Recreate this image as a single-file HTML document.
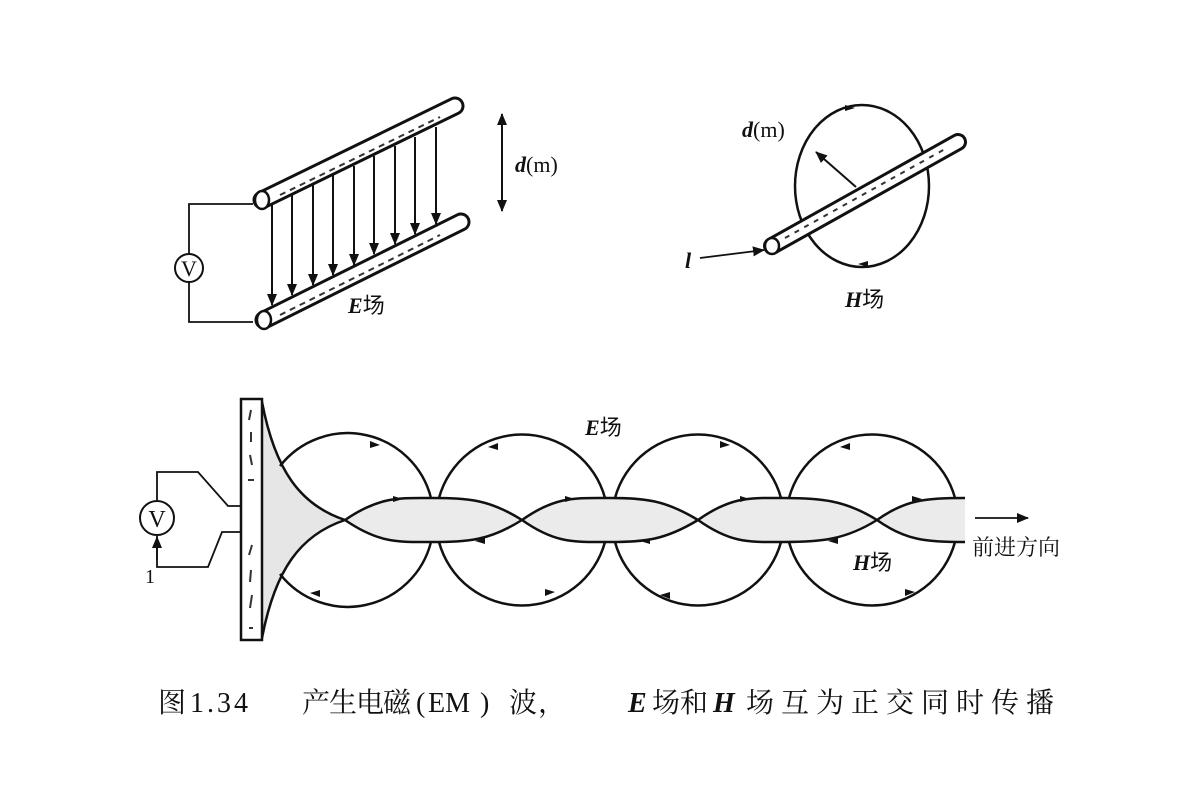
<!DOCTYPE html>
<html><head><meta charset="utf-8"><style>
body{margin:0;background:#fff}
svg{display:block}
text{font-family:"Liberation Serif","Noto Serif CJK SC",serif;fill:#111}
</style></head><body>
<svg width="1200" height="800" viewBox="0 0 1200 800" xmlns="http://www.w3.org/2000/svg">
<defs>
<marker id="ah2" markerWidth="12" markerHeight="12" refX="11" refY="6" orient="auto" markerUnits="userSpaceOnUse">
<path d="M0,1 L12,6 L0,11 Z" fill="#111"/></marker>
</defs>
<g stroke="#111" stroke-width="2.5" fill="none">
<polyline points="253,204 189,204 189,254" stroke-width="1.8"/>
<polyline points="253,322 189,322 189,282" stroke-width="1.8"/>
<circle cx="189" cy="268" r="14" stroke-width="2"/>
<line x1="262" y1="200" x2="455" y2="106" stroke-width="19" stroke-linecap="round"/>
<line x1="262" y1="200" x2="455" y2="106" stroke-width="13" stroke="#fff" stroke-linecap="round"/>
<ellipse cx="262" cy="200" rx="7" ry="9" stroke-width="2.5" fill="#fff"/>
<line x1="264" y1="320" x2="461" y2="222" stroke-width="19" stroke-linecap="round"/>
<line x1="264" y1="320" x2="461" y2="222" stroke-width="13" stroke="#fff" stroke-linecap="round"/>
<ellipse cx="264" cy="320" rx="7" ry="9" stroke-width="2.5" fill="#fff"/>
<g stroke-width="2" stroke-dasharray="6 5" stroke="#333">
<line x1="280" y1="195" x2="440" y2="117"/>
<line x1="280" y1="315" x2="440" y2="235"/>
</g>
<g stroke-width="2" marker-end="url(#ah2)">
<line x1="272" y1="204" x2="272" y2="305"/>
<line x1="292" y1="195" x2="292" y2="295"/>
<line x1="313" y1="185" x2="313" y2="285"/>
<line x1="333" y1="175" x2="333" y2="275"/>
<line x1="354" y1="166" x2="354" y2="265"/>
<line x1="374" y1="156" x2="374" y2="254"/>
<line x1="395" y1="146" x2="395" y2="244"/>
<line x1="415" y1="137" x2="415" y2="234"/>
<line x1="436" y1="127" x2="436" y2="224"/>
</g>
<line x1="502" y1="160" x2="502" y2="114" stroke-width="2" marker-end="url(#ah2)"/>
<line x1="502" y1="160" x2="502" y2="211" stroke-width="2" marker-end="url(#ah2)"/>
<ellipse cx="862" cy="186" rx="67" ry="81"/>
<line x1="772" y1="246" x2="958" y2="142" stroke-width="18" stroke-linecap="round"/>
<line x1="772" y1="246" x2="958" y2="142" stroke-width="12" stroke="#fff" stroke-linecap="round"/>
<ellipse cx="772" cy="246" rx="7" ry="8" fill="#fff" stroke-width="2.5"/>
<line x1="785" y1="238" x2="945" y2="149" stroke-width="2" stroke-dasharray="5 6" stroke="#333"/>
<line x1="856" y1="187" x2="816" y2="152" stroke-width="2" marker-end="url(#ah2)"/>
<line x1="700" y1="258" x2="764" y2="250" stroke-width="1.8" marker-end="url(#ah2)"/>
<path d="M262,402 C275,470 300,505 345,520 C300,535 275,570 262,638 Z" fill="#e6e6e6" stroke="none"/>
<path d="M345,520 C380,496 400,498 432,498 C470,498 490,500 522,520 C556,496 575,498 610,498 C645,498 665,500 698,520 C732,496 750,498 784,498 C820,498 845,500 877,520 C905,500 925,498 965,498 L965,542 C925,542 905,540 877,520 C845,540 820,542 784,542 C750,542 732,544 698,520 C665,540 645,542 610,542 C575,542 556,544 522,520 C490,540 470,542 432,542 C400,542 380,544 345,520 Z" fill="#ebebeb" stroke="none"/>
<path d="M262,402 C275,470 300,505 345,520 C380,496 400,498 432,498 C470,498 490,500 522,520 C556,496 575,498 610,498 C645,498 665,500 698,520 C732,496 750,498 784,498 C820,498 845,500 877,520 C905,500 925,498 965,498"/>
<path d="M262,638 C275,570 300,535 345,520 C380,544 400,542 432,542 C470,542 490,540 522,520 C556,544 575,542 610,542 C645,542 665,540 698,520 C732,544 750,542 784,542 C820,542 845,540 877,520 C905,540 925,542 965,542"/>
<path d="M280,466 A86,86 0 0 1 431,498"/>
<path d="M280,574 A86,86 0 0 0 431,542"/>
<path d="M439,498 A86,86 0 0 1 605,498"/>
<path d="M439,542 A86,86 0 0 0 605,542"/>
<path d="M615,498 A86,86 0 0 1 781,498"/>
<path d="M615,542 A86,86 0 0 0 781,542"/>
<path d="M789,498 A86,86 0 0 1 955,498"/>
<path d="M789,542 A86,86 0 0 0 955,542"/>
<rect x="241" y="399" width="21" height="241" fill="#fff"/>
<g stroke-width="1.8">
<polyline points="157,501 157,472 198,472 228,506 241,506"/>
<polyline points="241,532 222,532 208,567 157,567 157,536"/>
</g>
<circle cx="157" cy="518" r="17" stroke-width="2" fill="#fff"/>
<line x1="157" y1="560" x2="157" y2="537" stroke-width="1.8" marker-end="url(#ah2)"/>
<line x1="975" y1="518" x2="1028" y2="518" stroke-width="1.8" marker-end="url(#ah2)"/>
<g stroke-width="2" stroke="#333">
<line x1="251" y1="410" x2="249" y2="420"/><line x1="251" y1="432" x2="251" y2="442"/><line x1="250" y1="455" x2="252" y2="465"/><line x1="248" y1="480" x2="254" y2="480"/>
<line x1="252" y1="545" x2="249" y2="555"/><line x1="251" y1="570" x2="250" y2="582"/><line x1="252" y1="595" x2="250" y2="608"/><line x1="249" y1="628" x2="253" y2="628"/>
</g>
</g>
<g fill="#111">
<path d="M370,441 l10,4 l-10,3z"/><path d="M498,443 l-10,4 l10,3z"/><path d="M720,441 l10,4 l-10,3z"/><path d="M850,443 l-10,4 l10,3z"/>
<path d="M320,597 l-10,-4 l10,-3z"/><path d="M545,596 l10,-4 l-10,-3z"/><path d="M670,599 l-10,-4 l10,-3z"/><path d="M905,596 l10,-4 l-10,-3z"/>
<path d="M403,499 l-10,-3 l0,6z"/><path d="M575,499 l-10,-3 l0,6z"/><path d="M750,499 l-10,-3 l0,6z"/><path d="M922,499 l-10,-3 l0,6z"/>
<path d="M475,541 l10,-3 l0,6z"/><path d="M640,541 l10,-3 l0,6z"/><path d="M828,541 l10,-3 l0,6z"/>
<path d="M855,108 l-10,-3 l0,6z"/><path d="M858,264 l10,-3 l0,6z"/>
</g>
<text x="189" y="276" font-size="22" text-anchor="middle">V</text>
<text x="157" y="527" font-size="24" text-anchor="middle">V</text>
<text x="145" y="583" font-size="20">1</text>
<text x="515" y="172" font-size="22"><tspan font-weight="bold" font-style="italic">d</tspan>(m)</text>
<text x="742" y="137" font-size="22"><tspan font-weight="bold" font-style="italic">d</tspan>(m)</text>
<text x="685" y="268" font-size="22" font-style="italic" font-weight="bold">l</text>
<text x="348" y="313" font-size="22"><tspan font-weight="bold" font-style="italic">E</tspan><tspan font-family="Noto Sans CJK SC,sans-serif">场</tspan></text>
<text x="845" y="307" font-size="22"><tspan font-weight="bold" font-style="italic">H</tspan><tspan font-family="Noto Sans CJK SC,sans-serif">场</tspan></text>
<text x="585" y="435" font-size="22"><tspan font-weight="bold" font-style="italic">E</tspan><tspan font-family="Noto Sans CJK SC,sans-serif">场</tspan></text>
<text x="853" y="570" font-size="22"><tspan font-weight="bold" font-style="italic">H</tspan><tspan font-family="Noto Sans CJK SC,sans-serif">场</tspan></text>
<text x="972" y="555" font-size="22" font-family="Noto Sans CJK SC,sans-serif">前进方向</text>
<text y="712" font-size="28"><tspan x="158">图</tspan><tspan x="190" letter-spacing="3">1.34</tspan><tspan x="302" letter-spacing="-1">产生电磁</tspan><tspan x="416">(</tspan><tspan x="428">EM</tspan><tspan x="480">)</tspan><tspan x="509">波</tspan><tspan x="538">，</tspan><tspan x="628" font-weight="bold" font-style="italic">E</tspan><tspan x="652">场和</tspan><tspan x="713" font-weight="bold" font-style="italic">H</tspan><tspan x="746" letter-spacing="7">场互为正交同时传播</tspan></text>
</svg>
</body></html>
